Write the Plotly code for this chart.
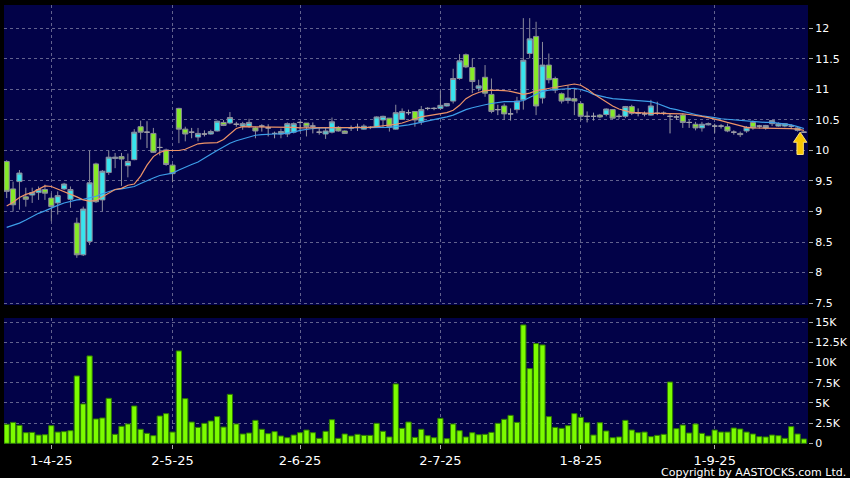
import plotly.graph_objects as go

# ---------------- data ----------------
OPEN = [9.82, 9.37, 9.49, 9.24, 9.27, 9.31, 9.36, 9.22, 9.14, 9.37,
        9.20, 8.81, 8.29, 8.51, 9.78, 9.19, 9.64, 9.87, 9.90, 9.75,
        9.85, 10.39, 10.30, 10.28, 10.05, 10.01, 9.76, 10.69, 10.35, 10.30,
        10.22, 10.27, 10.27, 10.32, 10.46, 10.45, 10.43, 10.40, 10.40, 10.37,
        10.40, 10.37, 10.28, 10.27, 10.27, 10.30, 10.46, 10.45, 10.40, 10.30,
        10.27, 10.30, 10.38, 10.32, 10.37, 10.38, 10.35, 10.38, 10.38, 10.50,
        10.53, 10.35, 10.51, 10.62, 10.64, 10.47, 10.69, 10.69, 10.69, 10.73,
        10.81, 11.18, 11.57, 11.36, 11.02, 11.20, 10.92, 10.67, 10.73, 10.60,
        10.67, 10.83, 11.59, 11.87, 10.86, 11.40, 11.18, 10.93, 10.82, 10.85,
        10.77, 10.56, 10.56, 10.58, 10.59, 10.67, 10.56, 10.56, 10.72, 10.61,
        10.60, 10.58, 10.61, 10.61, 10.56, 10.55, 10.58, 10.46, 10.43, 10.37,
        10.42, 10.40, 10.40, 10.39, 10.30, 10.28, 10.32, 10.46, 10.40, 10.37,
        10.44, 10.40, 10.40, 10.40, 10.33, 10.30]
HIGH = [9.84, 9.49, 9.68, 9.39, 9.39, 9.41, 9.44, 9.30, 9.33, 9.47,
        9.41, 8.90, 9.08, 10.00, 9.80, 9.68, 10.00, 9.96, 9.96, 9.95,
        10.35, 10.49, 10.48, 10.37, 10.20, 10.03, 9.78, 10.70, 10.39, 10.37,
        10.37, 10.33, 10.34, 10.49, 10.50, 10.63, 10.47, 10.47, 10.52, 10.39,
        10.43, 10.43, 10.31, 10.36, 10.46, 10.46, 10.48, 10.45, 10.46, 10.37,
        10.37, 10.54, 10.40, 10.33, 10.41, 10.44, 10.43, 10.40, 10.56, 10.57,
        10.53, 10.75, 10.69, 10.67, 10.64, 10.73, 10.71, 10.71, 10.98, 10.78,
        11.34, 11.58, 11.59, 11.51, 11.16, 11.40, 11.18, 10.75, 10.77, 10.69,
        10.88, 12.17, 12.17, 12.11, 11.78, 11.59, 11.21, 10.95, 11.07, 11.02,
        10.80, 10.64, 10.62, 10.60, 10.69, 10.68, 10.60, 10.73, 10.75, 10.69,
        10.64, 10.83, 10.80, 10.64, 10.60, 10.58, 10.61, 10.50, 10.47, 10.47,
        10.46, 10.44, 10.43, 10.44, 10.33, 10.31, 10.40, 10.49, 10.42, 10.42,
        10.50, 10.46, 10.45, 10.43, 10.39, 10.31]
LOW = [9.22, 9.00, 9.03, 9.08, 9.14, 9.19, 9.19, 8.84, 8.95, 9.35,
       9.06, 8.24, 8.27, 8.45, 9.14, 9.00, 9.60, 9.71, 9.42, 9.56,
       9.84, 10.18, 10.04, 9.96, 9.92, 9.75, 9.48, 10.12, 10.15, 10.20,
       10.15, 10.23, 10.26, 10.31, 10.40, 10.43, 10.39, 10.34, 10.37, 10.20,
       10.31, 10.23, 10.20, 10.20, 10.22, 10.28, 10.31, 10.23, 10.28, 10.26,
       10.19, 10.28, 10.31, 10.27, 10.32, 10.32, 10.34, 10.35, 10.37, 10.37,
       10.31, 10.34, 10.50, 10.58, 10.39, 10.42, 10.66, 10.66, 10.67, 10.72,
       10.77, 11.16, 11.35, 10.94, 10.97, 10.88, 10.61, 10.58, 10.50, 10.49,
       10.61, 10.67, 11.51, 10.58, 10.77, 11.10, 10.94, 10.77, 10.77, 10.58,
       10.49, 10.46, 10.49, 10.53, 10.56, 10.51, 10.52, 10.53, 10.58, 10.56,
       10.56, 10.57, 10.58, 10.58, 10.28, 10.50, 10.37, 10.37, 10.33, 10.31,
       10.41, 10.29, 10.36, 10.30, 10.26, 10.22, 10.29, 10.34, 10.36, 10.34,
       10.40, 10.39, 10.38, 10.35, 10.31, 10.29]
CLOSE = [9.33, 9.11, 9.63, 9.20, 9.31, 9.36, 9.30, 9.08, 9.26, 9.45,
         9.36, 8.29, 9.04, 9.47, 9.16, 9.66, 9.89, 9.89, 9.86, 9.82,
         10.30, 10.30, 10.30, 9.97, 10.05, 9.77, 9.62, 10.35, 10.27, 10.30,
         10.28, 10.27, 10.31, 10.48, 10.41, 10.54, 10.43, 10.44, 10.46, 10.32,
         10.40, 10.37, 10.28, 10.31, 10.44, 10.44, 10.46, 10.39, 10.40, 10.30,
         10.32, 10.47, 10.32, 10.28, 10.37, 10.38, 10.40, 10.38, 10.55, 10.56,
         10.39, 10.62, 10.64, 10.62, 10.50, 10.67, 10.69, 10.69, 10.74, 10.77,
         11.18, 11.47, 11.37, 11.13, 11.06, 10.94, 10.64, 10.67, 10.60, 10.60,
         10.81, 11.48, 11.83, 10.73, 11.40, 11.16, 10.99, 10.81, 10.86, 10.81,
         10.56, 10.56, 10.56, 10.55, 10.68, 10.53, 10.56, 10.72, 10.61, 10.61,
         10.60, 10.73, 10.61, 10.61, 10.56, 10.55, 10.46, 10.46, 10.37, 10.43,
         10.44, 10.40, 10.40, 10.32, 10.30, 10.26, 10.38, 10.37, 10.40, 10.41,
         10.49, 10.44, 10.44, 10.40, 10.37, 10.30]
MA_SHORT = [9.09, 9.15, 9.23, 9.28, 9.31, 9.36, 9.42, 9.41, 9.37, 9.33,
            9.29, 9.24, 9.19, 9.17, 9.18, 9.24, 9.31, 9.36, 9.38, 9.43,
            9.45, 9.58, 9.76, 9.90, 9.97, 10.00, 10.00, 10.00, 10.02, 10.07,
            10.11, 10.12, 10.12, 10.13, 10.18, 10.27, 10.36, 10.39, 10.39, 10.39,
            10.39, 10.39, 10.39, 10.39, 10.38, 10.38, 10.37, 10.37, 10.37, 10.37,
            10.37, 10.37, 10.37, 10.37, 10.37, 10.37, 10.37, 10.38, 10.39, 10.40,
            10.41, 10.43, 10.45, 10.49, 10.52, 10.55, 10.57, 10.58, 10.60, 10.62,
            10.66, 10.74, 10.85, 10.91, 10.95, 10.98, 10.99, 10.99, 10.98, 10.97,
            10.94, 10.92, 10.94, 10.98, 11.00, 11.02, 11.04, 11.05, 11.07, 11.09,
            11.07, 11.01, 10.93, 10.86, 10.80, 10.73, 10.68, 10.65, 10.62, 10.62,
            10.61, 10.61, 10.61, 10.61, 10.61, 10.60, 10.60, 10.59, 10.58, 10.56,
            10.54, 10.52, 10.49, 10.46, 10.43, 10.40, 10.38, 10.37, 10.37, 10.37,
            10.37, 10.37, 10.37, 10.36, 10.35, 10.33]
MA_LONG = [8.74, 8.77, 8.81, 8.86, 8.92, 8.97, 9.01, 9.06, 9.10, 9.14,
           9.17, 9.19, 9.20, 9.22, 9.25, 9.29, 9.33, 9.36, 9.37, 9.39,
           9.41, 9.46, 9.51, 9.55, 9.59, 9.61, 9.63, 9.68, 9.73, 9.77,
           9.81, 9.88, 9.94, 10.00, 10.06, 10.12, 10.16, 10.19, 10.22, 10.25,
           10.26, 10.27, 10.27, 10.27, 10.28, 10.30, 10.33, 10.35, 10.36, 10.37,
           10.37, 10.37, 10.37, 10.37, 10.37, 10.37, 10.37, 10.37, 10.37, 10.38,
           10.38, 10.39, 10.40, 10.42, 10.44, 10.46, 10.48, 10.50, 10.52, 10.55,
           10.58, 10.63, 10.67, 10.70, 10.73, 10.75, 10.77, 10.79, 10.80, 10.80,
           10.80, 10.82, 10.87, 10.92, 10.97, 10.99, 11.00, 11.01, 11.02, 11.02,
           11.00, 10.97, 10.92, 10.89, 10.87, 10.85, 10.84, 10.83, 10.83, 10.82,
           10.81, 10.80, 10.77, 10.73, 10.69, 10.67, 10.64, 10.61, 10.59, 10.57,
           10.56, 10.54, 10.52, 10.51, 10.50, 10.49, 10.48, 10.47, 10.47, 10.46,
           10.46, 10.45, 10.44, 10.42, 10.39, 10.36]
VOLUME_K = [2.36, 2.60, 2.23, 1.32, 1.36, 1.03, 1.07, 2.19, 1.40, 1.45,
            1.57, 8.35, 4.88, 10.83, 3.02, 3.14, 5.58, 1.12, 2.11, 2.40,
            4.63, 1.74, 1.24, 0.95, 3.39, 3.68, 1.40, 11.45, 5.54, 2.64,
            1.98, 2.48, 2.77, 3.31, 2.02, 6.07, 2.40, 1.16, 1.28, 2.85,
            1.74, 1.20, 1.45, 0.91, 0.70, 1.03, 1.32, 1.65, 1.32, 0.62,
            1.49, 2.93, 0.62, 1.16, 0.91, 1.12, 0.99, 0.99, 2.48, 1.49,
            0.79, 7.36, 1.86, 2.64, 0.74, 1.74, 0.95, 0.70, 3.10, 0.58,
            2.40, 1.57, 0.79, 1.32, 1.07, 1.12, 1.36, 2.48, 2.98, 3.47,
            2.60, 14.67, 9.26, 12.36, 12.19, 3.31, 1.98, 1.86, 2.19, 3.68,
            3.22, 2.56, 1.03, 2.56, 1.53, 0.70, 0.79, 2.85, 1.65, 1.32,
            1.40, 0.83, 0.99, 1.12, 7.60, 1.82, 2.27, 1.28, 2.40, 1.24,
            0.91, 1.65, 1.40, 1.40, 1.90, 1.78, 1.40, 1.16, 0.83, 0.79,
            1.03, 0.95, 0.62, 2.07, 1.16, 0.54]
TICK_IDX = [7, 26, 46, 68, 90, 111]
TICK_TEXT = ["1-4-25", "2-5-25", "2-6-25", "2-7-25", "1-8-25", "1-9-25"]
PRICE_TICKS = [7.5, 8, 8.5, 9, 9.5, 10, 10.5, 11, 11.5, 12]
VOL_TICKS_K = [0, 2.5, 5, 7.5, 10, 12.5, 15]
VOL_TICK_TEXT = ["0", "2.5K", "5K", "7.5K", "10K", "12.5K", "15K"]

# ---------------- style ----------------
BG = "#020248"
GRID = "#62628e"
WICK = "#8c8c9c"
UP_FILL = "#38e4ee"
DOWN_FILL = "#86ea28"
DOJI = "#a0a0a8"
FONT = "DejaVu Sans"

n = len(CLOSE)
idx = list(range(n))
ups = [i for i in idx if CLOSE[i] > OPEN[i]]
downs = [i for i in idx if CLOSE[i] < OPEN[i]]
dojis = [i for i in idx if CLOSE[i] == OPEN[i]]


def candles(sel, fill, line):
    return go.Candlestick(
        x=sel,
        open=[OPEN[i] for i in sel], high=[HIGH[i] for i in sel],
        low=[LOW[i] for i in sel], close=[CLOSE[i] for i in sel],
        increasing=dict(fillcolor=fill, line=dict(color=line, width=1)),
        decreasing=dict(fillcolor=fill, line=dict(color=line, width=1)),
        whiskerwidth=0, showlegend=False, hoverinfo="skip",
        xaxis="x", yaxis="y")


fig = go.Figure()
fig.add_trace(go.Scatter(x=idx, y=MA_LONG, mode="lines",
                         line=dict(color="#3d9ee8", width=1.2),
                         showlegend=False, hoverinfo="skip", xaxis="x", yaxis="y"))
fig.add_trace(go.Scatter(x=idx, y=MA_SHORT, mode="lines",
                         line=dict(color="#ee9468", width=1.2),
                         showlegend=False, hoverinfo="skip", xaxis="x", yaxis="y"))
fig.add_trace(candles(ups, UP_FILL, WICK))
fig.add_trace(candles(downs, DOWN_FILL, WICK))
fig.add_trace(candles(dojis, DOJI, DOJI))

fig.add_trace(go.Bar(x=idx, y=[v * 1000 for v in VOLUME_K], width=0.82,
                     marker=dict(color="#7cfc00", line=dict(color="#2e7d00", width=1)),
                     showlegend=False, hoverinfo="skip", xaxis="x2", yaxis="y2"))

# yellow marker arrow under the last candle
xc = n - 1 - 0.6
tip = CLOSE[-1]
head_base = tip - 0.165
bottom = tip - 0.365
hw, sw = 1.05, 0.5
path = (f"M {xc},{tip} L {xc + hw},{head_base} L {xc + sw},{head_base} "
        f"L {xc + sw},{bottom} L {xc - sw},{bottom} L {xc - sw},{head_base} "
        f"L {xc - hw},{head_base} Z")
fig.add_shape(type="path", path=path, xref="x", yref="y",
              fillcolor="#f7c600", line=dict(color="#ffe27a", width=1))

xr = [-0.42, n - 0.37]
common_x = dict(range=xr, tickmode="array", tickvals=TICK_IDX, showgrid=True,
                gridcolor=GRID, griddash="3px,3px", gridwidth=1, zeroline=False,
                showline=False, fixedrange=True)
fig.update_layout(
    width=850, height=478,
    margin=dict(l=4, r=42, t=5, b=34, autoexpand=False),
    paper_bgcolor="black", plot_bgcolor=BG,
    font=dict(family=FONT, color="white", size=11),
    showlegend=False,
    boxgap=0.2, boxgroupgap=0,
    xaxis=dict(**common_x, anchor="y", showticklabels=False, ticks="",
               rangeslider=dict(visible=False)),
    xaxis2=dict(**common_x, anchor="y2", ticktext=TICK_TEXT, ticks="outside",
                ticklen=4, tickcolor="#aaaaaa", tickfont=dict(size=13)),
    yaxis=dict(domain=[0.3166, 1], range=[7.467, 12.385], side="right",
               tickvals=PRICE_TICKS, ticktext=[f"{t:g}" for t in PRICE_TICKS],
               ticks="outside", ticklen=4, tickcolor="#aaaaaa",
               showgrid=True, gridcolor=GRID, griddash="3px,3px",
               zeroline=False, fixedrange=True, tickfont=dict(size=11)),
    yaxis2=dict(domain=[0, 0.287], range=[-80, 15530], side="right",
                tickvals=[t * 1000 for t in VOL_TICKS_K], ticktext=VOL_TICK_TEXT,
                ticks="outside", ticklen=4, tickcolor="#aaaaaa",
                showgrid=True, gridcolor=GRID, griddash="3px,3px",
                zeroline=False, fixedrange=True, tickfont=dict(size=11)),
    annotations=[dict(text="Copyright by AASTOCKS.com Ltd.", xref="paper",
                      yref="paper", x=1.0, y=0, xanchor="right", yanchor="middle",
                      xshift=39, yshift=-28, showarrow=False, borderpad=0,
                      font=dict(size=11, color="white"))],
)

fig.write_html("out.html", config={"displayModeBar": False},
               post_script="document.body.style.margin='0';"
                           "document.body.style.background='black';")
